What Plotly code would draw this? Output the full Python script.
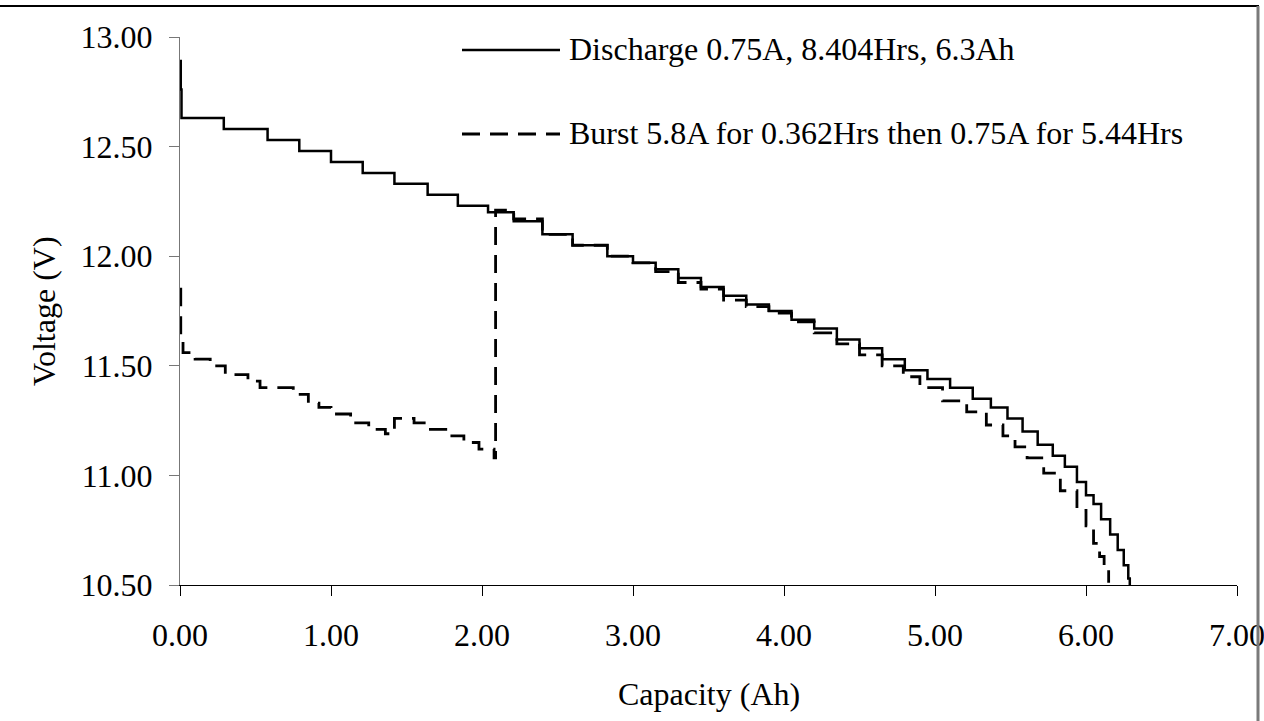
import plotly.graph_objects as go

# Constant-current discharge at 0.75 A (step start points, Ah / V)
discharge_ah = [0.00, 0.005, 0.01, 0.29, 0.58, 0.79, 1.00, 1.21, 1.42, 1.64, 1.84, 2.04,
                2.21, 2.40, 2.60, 2.83, 3.00, 3.15, 3.30, 3.45, 3.60, 3.75, 3.90, 4.05,
                4.20, 4.35, 4.50, 4.65, 4.80, 4.95, 5.10, 5.25, 5.37, 5.48, 5.58, 5.68,
                5.78, 5.86, 5.94, 6.00, 6.05, 6.10, 6.16, 6.21, 6.25, 6.28, 6.29]
discharge_v = [12.89, 12.76, 12.63, 12.58, 12.53, 12.48, 12.43, 12.38, 12.33, 12.28, 12.23, 12.20,
               12.16, 12.10, 12.05, 12.00, 11.97, 11.94, 11.90, 11.86, 11.82, 11.78, 11.75, 11.71,
               11.67, 11.62, 11.58, 11.53, 11.48, 11.44, 11.40, 11.35, 11.31, 11.26, 11.20, 11.14,
               11.09, 11.04, 10.97, 10.91, 10.87, 10.80, 10.73, 10.66, 10.59, 10.53, 10.50]

# 5.8 A burst followed by 0.75 A discharge
burst_ah = [0.00, 0.005, 0.02, 0.10, 0.20, 0.30, 0.45, 0.53, 0.75, 0.85, 0.92, 1.00,
            1.13, 1.25, 1.36, 1.42, 1.55, 1.64, 1.76, 1.88, 1.98, 2.08, 2.09, 2.21,
            2.40, 2.60, 2.83, 3.00, 3.15, 3.30, 3.45, 3.60, 3.75, 3.90, 4.05, 4.20,
            4.35, 4.50, 4.65, 4.79, 4.90, 5.05, 5.21, 5.34, 5.45, 5.53, 5.61, 5.72,
            5.83, 5.94, 6.00, 6.05, 6.09, 6.12, 6.15]
burst_v = [11.85, 11.62, 11.56, 11.53, 11.50, 11.46, 11.43, 11.40, 11.37, 11.33, 11.31, 11.28,
           11.24, 11.21, 11.19, 11.26, 11.24, 11.21, 11.18, 11.15, 11.12, 11.08, 12.21, 12.17,
           12.10, 12.05, 12.00, 11.97, 11.93, 11.88, 11.85, 11.80, 11.77, 11.74, 11.70, 11.65,
           11.60, 11.55, 11.50, 11.45, 11.40, 11.34, 11.29, 11.23, 11.18, 11.13, 11.08, 11.01,
           10.93, 10.84, 10.77, 10.69, 10.63, 10.57, 10.51]

series_names = ["Discharge 0.75A, 8.404Hrs, 6.3Ah",
                "Burst 5.8A for 0.362Hrs then 0.75A for 5.44Hrs"]

x_ticks = [0, 1, 2, 3, 4, 5, 6, 7]
y_ticks = [10.5, 11.0, 11.5, 12.0, 12.5, 13.0]

FONT = "Liberation Serif, Times New Roman, serif"
FS = 32

fig = go.Figure()
fig.add_trace(go.Scatter(x=discharge_ah, y=discharge_v, mode="lines", line_shape="hv",
                         line=dict(color="black", width=2.5), name=series_names[0],
                         showlegend=False))
fig.add_trace(go.Scatter(x=burst_ah, y=burst_v, mode="lines", line_shape="hv",
                         line=dict(color="black", width=2.8, dash="18px,10px"),
                         name=series_names[1], showlegend=False))

# plot-area geometry in pixels
L, R, T, B = 180, 1237, 37, 585
W, H = R - L, B - T


def px(xp):
    return (xp - L) / W


def py(yp):
    return (B - yp) / H


shapes = [
    # legend samples
    dict(type="line", xref="paper", yref="paper", x0=px(462), x1=px(560), y0=py(50), y1=py(50),
         line=dict(color="black", width=2.5)),
    dict(type="line", xref="paper", yref="paper", x0=px(462), x1=px(560), y0=py(134), y1=py(134),
         line=dict(color="black", width=2.8, dash="18px,10px")),
    # chart frame
    dict(type="line", xref="paper", yref="paper", x0=px(0), x1=px(1259), y0=py(6), y1=py(6),
         line=dict(color="black", width=2)),
    dict(type="line", xref="paper", yref="paper", x0=px(1258), x1=px(1258), y0=py(6), y1=py(721),
         line=dict(color="#7a7a7a", width=3)),
]

annotations = [
    dict(text=series_names[0], xref="paper", yref="paper", x=px(567), y=py(49),
         xanchor="left", yanchor="middle", showarrow=False,
         font=dict(family=FONT, size=FS, color="black")),
    dict(text=series_names[1], xref="paper", yref="paper", x=px(567), y=py(133),
         xanchor="left", yanchor="middle", showarrow=False,
         font=dict(family=FONT, size=FS, color="black")),
    dict(text="Capacity (Ah)", xref="paper", yref="paper", x=0.5, y=py(694),
         xanchor="center", yanchor="middle", showarrow=False,
         font=dict(family=FONT, size=FS, color="black")),
    dict(text="Voltage (V)", xref="paper", yref="paper", x=px(44), y=0.5, textangle=-90,
         xanchor="center", yanchor="middle", showarrow=False,
         font=dict(family=FONT, size=FS, color="black")),
]

fig.update_layout(
    width=1264, height=721,
    margin=dict(l=L, r=1264 - R, t=T, b=721 - B, autoexpand=False),
    paper_bgcolor="white", plot_bgcolor="white",
    font=dict(family=FONT, size=FS, color="black"),
    shapes=shapes, annotations=annotations,
    showlegend=False,
)
fig.update_xaxes(range=[0, 7], tickvals=x_ticks, tickformat=".2f", automargin=False,
                 showgrid=False, zeroline=False, showline=True, linecolor="black", linewidth=1,
                 ticks="outside", ticklen=10, tickcolor="black", tickwidth=1,
                 ticklabeloverflow="allow",
                 ticklabelstandoff=12, tickfont=dict(family=FONT, size=FS, color="black"))
fig.update_yaxes(range=[10.5, 13.0], tickvals=y_ticks, tickformat=".2f", automargin=False,
                 showgrid=False, zeroline=False, showline=True, linecolor="#777777", linewidth=1,
                 ticks="outside", ticklen=10, tickcolor="#777777", tickwidth=1,
                 ticklabeloverflow="allow",
                 ticklabelstandoff=10, tickfont=dict(family=FONT, size=FS, color="black"))

fig.write_html("out.html")
